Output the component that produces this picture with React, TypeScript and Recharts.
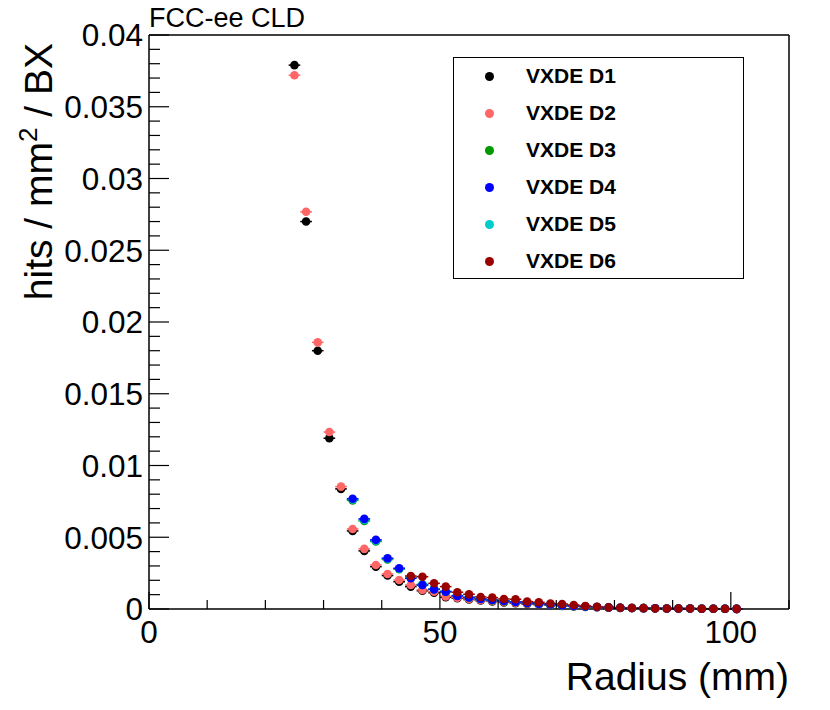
import { ScatterChart, Scatter, XAxis, YAxis, ErrorBar, Legend } from 'recharts';

const FONT = '"Liberation Sans", Arial, Helvetica, sans-serif';

// bin centres (mm)
const RADII_D1_D2 = [25, 27, 29, 31, 33, 35, 37, 39, 41, 43, 45, 47, 49, 51, 53, 55, 57, 59, 61, 63, 65, 67, 69, 71, 73, 75, 77, 79, 81, 83, 85, 87, 89, 91, 93, 95, 97, 99, 101];
const RADII_D3_D5 = [35, 37, 39, 41, 43, 45, 47, 49, 51, 53, 55, 57, 59, 61, 63, 65, 67, 69, 71, 73, 75, 77, 79, 81, 83, 85, 87, 89, 91, 93, 95, 97, 99, 101];
const RADII_D6 = [45, 47, 49, 51, 53, 55, 57, 59, 61, 63, 65, 67, 69, 71, 73, 75, 77, 79, 81, 83, 85, 87, 89, 91, 93, 95, 97, 99, 101];

// hits / mm2 / BX
const VXDE_D1 = [0.0379, 0.027, 0.018, 0.0119, 0.00837, 0.00544, 0.00405, 0.00295, 0.00233, 0.0019, 0.00156, 0.00127, 0.00113, 0.00082, 0.00075, 0.00066, 0.00059, 0.00053, 0.00046, 0.0004, 0.00035, 0.00031, 0.00026, 0.00022, 0.00018, 0.00015, 0.00012, 0.0001, 0.00008, 0.00007, 0.00006, 0.00005, 0.00004, 0.00003, 0.00003, 0.00002, 0.00002, 0.00002, 0.00001];
const VXDE_D2 = [0.0372, 0.02768, 0.01858, 0.01233, 0.00853, 0.00558, 0.00419, 0.00307, 0.00244, 0.00202, 0.00167, 0.00133, 0.00121, 0.00088, 0.00079, 0.0007, 0.00063, 0.00056, 0.00049, 0.00043, 0.00038, 0.00033, 0.00028, 0.00024, 0.0002, 0.00016, 0.00013, 0.00011, 0.00009, 0.00008, 0.00006, 0.00005, 0.00004, 0.00004, 0.00003, 0.00003, 0.00002, 0.00002, 0.00001];
const VXDE_D3 = [0.00757, 0.00614, 0.0047, 0.00345, 0.00278, 0.00221, 0.0017, 0.00138, 0.00119, 0.00092, 0.00079, 0.00071, 0.00062, 0.00055, 0.00049, 0.00042, 0.00036, 0.0003, 0.00026, 0.00021, 0.00017, 0.00014, 0.00011, 0.00009, 0.00007, 0.00006, 0.00005, 0.00004, 0.00003, 0.00003, 0.00002, 0.00002, 0.00002, 0.00001];
const VXDE_D4 = [0.00768, 0.00628, 0.00482, 0.00354, 0.00284, 0.00214, 0.00167, 0.00137, 0.00121, 0.00091, 0.0008, 0.0007, 0.00063, 0.00056, 0.00049, 0.00042, 0.00036, 0.00031, 0.00026, 0.00021, 0.00017, 0.00014, 0.00011, 0.00009, 0.00007, 0.00006, 0.00005, 0.00004, 0.00003, 0.00003, 0.00002, 0.00002, 0.00002, 0.00001];
const VXDE_D5 = [0.00763, 0.00621, 0.00476, 0.0035, 0.00281, 0.00221, 0.00172, 0.0014, 0.00124, 0.00095, 0.00083, 0.00072, 0.00065, 0.00057, 0.0005, 0.00043, 0.00037, 0.00032, 0.00027, 0.00022, 0.00018, 0.00014, 0.00011, 0.00009, 0.00007, 0.00006, 0.00005, 0.00004, 0.00003, 0.00003, 0.00002, 0.00002, 0.00002, 0.00001];
const VXDE_D6 = [0.0023, 0.00225, 0.00179, 0.00156, 0.00117, 0.00103, 0.00084, 0.00079, 0.0007, 0.00068, 0.00052, 0.00047, 0.00038, 0.00035, 0.00028, 0.00021, 0.00016, 0.00011, 0.00009, 0.00007, 0.00006, 0.00004, 0.00004, 0.00003, 0.00003, 0.00002, 0.00002, 0.00002, 0.00001];

const BIN_HALF_WIDTH = 1;

const SERIES = [
  { name: 'VXDE D1', color: '#000000', radii: RADII_D1_D2, values: VXDE_D1 },
  { name: 'VXDE D2', color: '#ff6666', radii: RADII_D1_D2, values: VXDE_D2 },
  { name: 'VXDE D3', color: '#009900', radii: RADII_D3_D5, values: VXDE_D3 },
  { name: 'VXDE D4', color: '#0000ff', radii: RADII_D3_D5, values: VXDE_D4 },
  { name: 'VXDE D5', color: '#00cccc', radii: RADII_D3_D5, values: VXDE_D5 },
  { name: 'VXDE D6', color: '#990000', radii: RADII_D6, values: VXDE_D6 },
];
// D5 sits under D4 in the plot
const DRAW_ORDER = [0, 1, 2, 4, 3, 5];

const X_TICKS = [0, 10, 20, 30, 40, 50, 60, 70, 80, 90, 100, 110];
const X_LABELS = [0, 50, 100];
const Y_TICKS = [
  0, 0.001, 0.002, 0.003, 0.004, 0.005, 0.006, 0.007, 0.008, 0.009, 0.01,
  0.011, 0.012, 0.013, 0.014, 0.015, 0.016, 0.017, 0.018, 0.019, 0.02,
  0.021, 0.022, 0.023, 0.024, 0.025, 0.026, 0.027, 0.028, 0.029, 0.03,
  0.031, 0.032, 0.033, 0.034, 0.035, 0.036, 0.037, 0.038, 0.039, 0.04,
];
const Y_LABELS = [0, 0.005, 0.01, 0.015, 0.02, 0.025, 0.03, 0.035, 0.04];

const TICK_FONT = 31.5;

const toPoints = (radii: number[], values: number[]) =>
  radii.map((r, i) => ({ r, v: values[i], xerr: BIN_HALF_WIDTH }));

function LeftTick({ x, y, payload }: any) {
  const major = Y_LABELS.includes(payload.value);
  return (
    <g>
      <line x1={x} y1={y} x2={x + (major ? 20 : 11)} y2={y} stroke="#000" strokeWidth={1.2} />
      {major && (
        <text x={x - 6} y={y} dy="0.36em" textAnchor="end" fontSize={TICK_FONT} fontFamily={FONT} fill="#000">
          {String(payload.value)}
        </text>
      )}
    </g>
  );
}

function RightTick({ x, y, payload }: any) {
  const major = Y_LABELS.includes(payload.value);
  return <line x1={x} y1={y} x2={x - (major ? 20 : 11)} y2={y} stroke="#000" strokeWidth={1.2} />;
}

function BottomTick({ x, y, payload }: any) {
  const major = X_LABELS.includes(payload.value);
  return (
    <g>
      <line x1={x} y1={y} x2={x} y2={y - (major ? 17 : 9)} stroke="#000" strokeWidth={1.2} />
      {major && (
        <text x={x} y={y + 34} textAnchor="middle" fontSize={TICK_FONT} fontFamily={FONT} fill="#000">
          {String(payload.value)}
        </text>
      )}
    </g>
  );
}

function TopTick({ x, y, payload }: any) {
  const major = X_LABELS.includes(payload.value);
  return <line x1={x} y1={y} x2={x} y2={y + (major ? 17 : 9)} stroke="#000" strokeWidth={1.2} />;
}

function XTitle({ viewBox }: any) {
  return (
    <text x={viewBox.x + viewBox.width} y={viewBox.y + 81} textAnchor="end" fontSize={39} fontFamily={FONT} fill="#000">
      Radius (mm)
    </text>
  );
}

function YTitle({ viewBox }: any) {
  const x = viewBox.x - 96;
  const y = viewBox.y + 8;
  return (
    <text x={x} y={y} transform={`rotate(-90 ${x} ${y})`} textAnchor="end" fontSize={39} fontFamily={FONT} fill="#000">
      hits / mm<tspan dy={-15} fontSize={26}>2</tspan>
      <tspan dy={15}> / BX</tspan>
    </text>
  );
}

function TopTitle({ viewBox }: any) {
  return (
    <text x={viewBox.x} y={viewBox.y - 7} fontSize={27} fontFamily={FONT} fill="#000">
      FCC-ee CLD
    </text>
  );
}

function LegendBox() {
  return (
    <div
      style={{
        position: 'relative',
        width: 291,
        height: 222,
        border: '1px solid #000',
        boxSizing: 'border-box',
        background: '#fff',
        fontFamily: FONT,
      }}
    >
      {SERIES.map((s, i) => (
        <div key={s.name} style={{ position: 'absolute', left: 0, top: 18 + i * 37 - 12, height: 24, width: '100%' }}>
          <span
            style={{
              position: 'absolute',
              left: 31,
              top: 7.5,
              width: 9,
              height: 9,
              borderRadius: '50%',
              background: s.color,
            }}
          />
          <span style={{ position: 'absolute', left: 72, top: 0, lineHeight: '24px', fontSize: 21, fontWeight: 700, color: '#000' }}>
            {s.name}
          </span>
        </div>
      ))}
    </div>
  );
}

export default function App() {
  return (
    <div style={{ position: 'absolute', left: 0, top: 0, width: 830, height: 710, background: '#fff' }}>
      <ScatterChart width={830} height={710} margin={{ top: 34, right: 40, bottom: 100, left: 148 }}>
        <XAxis
          xAxisId="bottom"
          dataKey="r"
          type="number"
          domain={[0, 110]}
          ticks={X_TICKS}
          interval={0}
          orientation="bottom"
          height={1}
          tickSize={0}
          tickMargin={0}
          tickLine={false}
          tick={<BottomTick />}
          axisLine={{ stroke: '#000', strokeWidth: 1.5 }}
          label={<XTitle />}
        />
        <XAxis
          xAxisId="top"
          type="number"
          domain={[0, 110]}
          ticks={X_TICKS}
          interval={0}
          orientation="top"
          height={1}
          tickSize={0}
          tickMargin={0}
          tickLine={false}
          tick={<TopTick />}
          axisLine={{ stroke: '#000', strokeWidth: 1.5 }}
          label={<TopTitle />}
        />
        <YAxis
          yAxisId="left"
          dataKey="v"
          type="number"
          domain={[0, 0.04]}
          ticks={Y_TICKS}
          interval={0}
          orientation="left"
          width={1}
          tickSize={0}
          tickMargin={0}
          tickLine={false}
          tick={<LeftTick />}
          axisLine={{ stroke: '#000', strokeWidth: 1.5 }}
          label={<YTitle />}
        />
        <YAxis
          yAxisId="right"
          type="number"
          domain={[0, 0.04]}
          ticks={Y_TICKS}
          interval={0}
          orientation="right"
          width={1}
          tickSize={0}
          tickMargin={0}
          tickLine={false}
          tick={<RightTick />}
          axisLine={{ stroke: '#000', strokeWidth: 1.5 }}
        />
        <Legend
          layout="vertical"
          align="center"
          verticalAlign="middle"
          content={<LegendBox />}
          wrapperStyle={{ left: 453, top: 57, width: 291, height: 222 }}
        />
        {DRAW_ORDER.map((idx) => {
          const s = SERIES[idx];
          return (
            <Scatter
              key={s.name}
              name={s.name}
              xAxisId="bottom"
              yAxisId="left"
              data={toPoints(s.radii, s.values)}
              fill={s.color}
              isAnimationActive={false}
              shape={(p: any) => <circle cx={p.cx} cy={p.cy} r={4.3} fill={s.color} />}
            >
              <ErrorBar dataKey="xerr" direction="x" width={0} stroke={s.color} strokeWidth={1.5} isAnimationActive={false} />
            </Scatter>
          );
        })}
      </ScatterChart>
    </div>
  );
}
